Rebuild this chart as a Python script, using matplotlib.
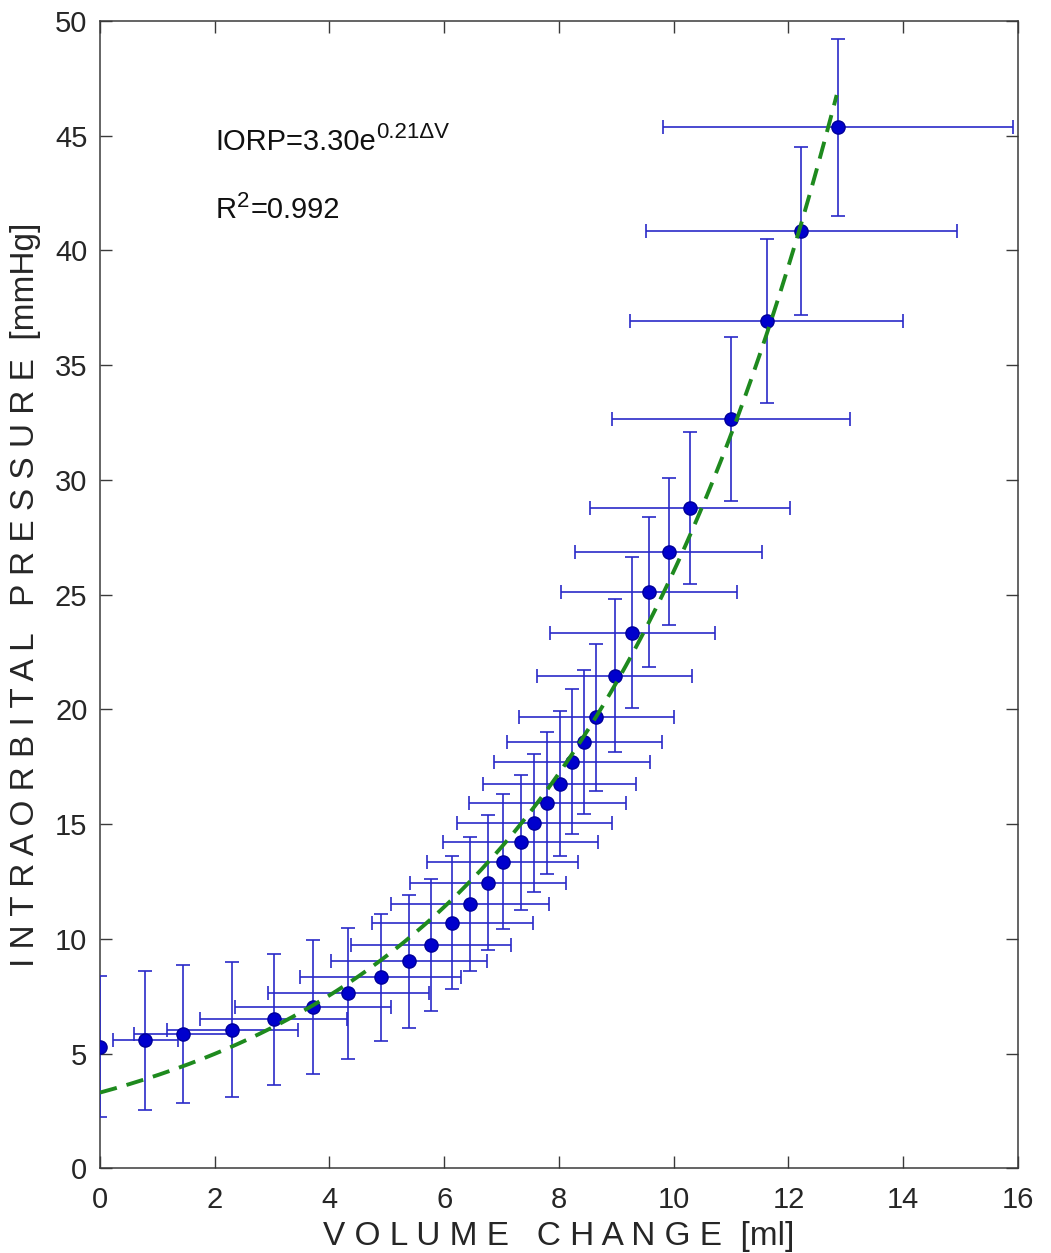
import numpy as np
import matplotlib
matplotlib.use("Agg")
import matplotlib.pyplot as plt

plt.rcParams['font.family'] = ['Liberation Sans', 'DejaVu Sans']

# -----------------------------
# Data
# -----------------------------
vol = [0.00, 0.79, 1.45, 2.31, 3.03, 3.72, 4.33, 4.89, 5.39, 5.77,
       6.14, 6.45, 6.77, 7.02, 7.33, 7.57, 7.80, 8.01, 8.22, 8.44,
       8.65, 8.97, 9.28, 9.57, 9.91, 10.28, 11.00, 11.62, 12.22, 12.87]
iorp = [5.30, 5.58, 5.84, 6.04, 6.49, 7.02, 7.62, 8.32, 9.02, 9.73,
        10.71, 11.53, 12.45, 13.37, 14.21, 15.04, 15.92, 16.77, 17.72, 18.58,
        19.66, 21.46, 23.35, 25.11, 26.87, 28.77, 32.65, 36.92, 40.87, 45.37]
vol_err = [0.00, 0.57, 0.85, 1.15, 1.28, 1.36, 1.40, 1.40, 1.36, 1.39,
           1.40, 1.38, 1.36, 1.32, 1.35, 1.35, 1.36, 1.33, 1.36, 1.35,
           1.35, 1.35, 1.44, 1.53, 1.63, 1.74, 2.07, 2.38, 2.71, 3.05]
iorp_err = [3.08, 3.04, 3.00, 2.93, 2.87, 2.93, 2.86, 2.78, 2.89, 2.87,
            2.90, 2.92, 2.93, 2.93, 2.95, 3.00, 3.11, 3.16, 3.16, 3.13,
            3.20, 3.33, 3.31, 3.26, 3.21, 3.32, 3.58, 3.57, 3.66, 3.85]

# exponential fit IORP = a*exp(b*dV)
fit_a = 3.30
fit_b = 0.2065
fit_xmax = 12.84

# -----------------------------
# Plot
# -----------------------------
fig = plt.figure(figsize=(10.51, 12.53), dpi=100)
ax = fig.add_axes([0.0951, 0.0676, 0.8735, 0.9156])

ax.errorbar(vol, iorp, xerr=vol_err, yerr=iorp_err, fmt='o',
            color='#0000cd', ecolor='#2a2ac8', elinewidth=1.2,
            capsize=5, capthick=1.2, markersize=9.5,
            markerfacecolor='#0000cd', markeredgecolor='#00009a', zorder=3)

xf = np.linspace(0, fit_xmax, 200)
ax.plot(xf, fit_a * np.exp(fit_b * xf), color='#1e8a1e', lw=2.8,
        linestyle=(0, (4.5, 2.6)), zorder=4)

# annotation text, superscripts as separate pieces
t1 = ax.text(2.02, 44.4, 'IORP=3.30e', fontsize=21, color='#111111',
             va='baseline', ha='left')
ax.annotate('0.21ΔV', xy=(1.0, 0.62), xycoords=t1, fontsize=16,
            color='#111111', va='baseline', ha='left')
t2 = ax.text(2.02, 41.4, 'R', fontsize=21, color='#111111',
             va='baseline', ha='left')
ax.annotate('2', xy=(1.02, 0.62), xycoords=t2, fontsize=16,
            color='#111111', va='baseline', ha='left')
ax.annotate('=0.992', xy=(1.0, 0.0), xycoords=t2, xytext=(10, 0),
            textcoords='offset points', fontsize=21, color='#111111',
            va='bottom', ha='left')

ax.set_xlim(0, 16)
ax.set_ylim(0, 50)
ax.set_xticks(range(0, 17, 2))
ax.set_yticks(range(0, 51, 5))
ax.tick_params(direction='in', length=8.5, width=1.0, top=True, right=True,
               labelsize=21, colors='#3a3a3a', labelcolor='#262626')
ax.tick_params(axis='x', pad=13)
ax.tick_params(axis='y', pad=9)
for s in ax.spines.values():
    s.set_color('#3a3a3a')
    s.set_linewidth(1.1)

ax.set_xlabel('V O L U M E   C H A N G E  [ml]', fontsize=24,
              color='#262626', labelpad=5)
ax.set_ylabel('I N T R A O R B I T A L   P R E S S U R E  [mmHg]',
              fontsize=24, color='#262626', labelpad=10)

fig.savefig('out.png', dpi=100)
